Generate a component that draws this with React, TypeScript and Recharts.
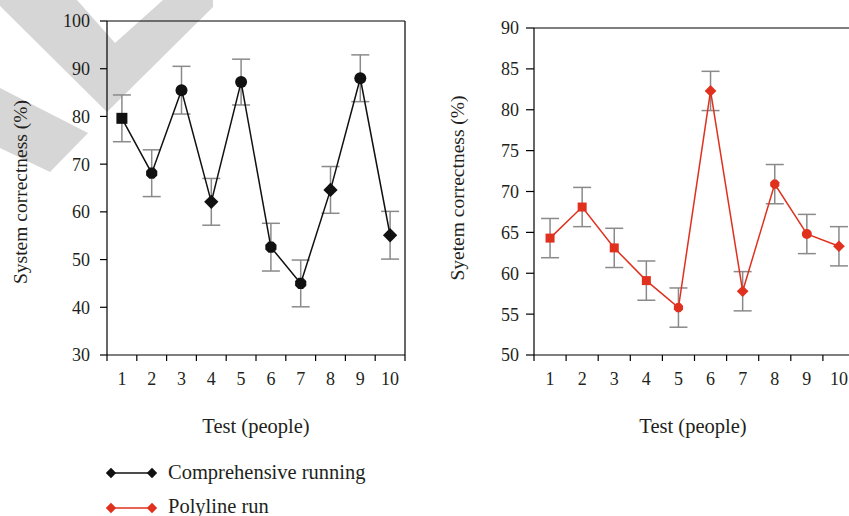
import React from 'react';
import { LineChart, Line, XAxis, YAxis, ErrorBar, ReferenceLine } from 'recharts';

const tests = [1, 2, 3, 4, 5, 6, 7, 8, 9, 10];
const comprehensiveValues = [79.6, 68.1, 85.5, 62.1, 87.2, 52.6, 45.0, 64.6, 88.0, 55.1];
const comprehensiveErrors = [4.9, 4.9, 5.0, 4.9, 4.8, 5.0, 4.9, 4.9, 4.9, 5.0];
const comprehensiveMarkers = ['square', 'octagon', 'circle', 'diamond', 'circle', 'octagon', 'octagon', 'diamond', 'circle', 'diamond'];
const polylineValues = [64.3, 68.1, 63.1, 59.1, 55.8, 82.3, 57.8, 70.9, 64.8, 63.3];
const polylineErrors = [2.4, 2.4, 2.4, 2.4, 2.4, 2.4, 2.4, 2.4, 2.4, 2.4];
const polylineMarkers = ['square', 'square', 'square', 'square', 'octagon', 'diamond', 'diamond', 'octagon', 'circle', 'diamond'];
const leftYTicks = [30, 40, 50, 60, 70, 80, 90, 100];
const rightYTicks = [50, 55, 60, 65, 70, 75, 80, 85, 90];

const FONT = '"Liberation Serif", "DejaVu Serif", serif';
const TEXT = '#231f20';
const RED = '#e0301e';
const GREY = '#8a8a8a';

const leftData = tests.map((t, i) => ({ test: t, value: comprehensiveValues[i], err: comprehensiveErrors[i] }));
const rightData = tests.map((t, i) => ({ test: t, value: polylineValues[i], err: polylineErrors[i] }));
// category labels at integers, tick marks on the band edges
const xTicks = [0.5, ...tests.flatMap(t => [t, t + 0.5])];

function marker(shape: string, cx: number, cy: number, size: number, fill: string, key?: string) {
  const r = size / 2;
  if (shape === 'square') return <rect key={key} x={cx - r} y={cy - r} width={size} height={size} fill={fill} />;
  if (shape === 'circle') return <circle key={key} cx={cx} cy={cy} r={r + 0.5} fill={fill} />;
  if (shape === 'diamond') {
    const d = r * 1.3;
    return <polygon key={key} points={`${cx},${cy - d} ${cx + d},${cy} ${cx},${cy + d} ${cx - d},${cy}`} fill={fill} />;
  }
  const pts = [];
  for (let k = 0; k < 8; k++) {
    const a = Math.PI / 8 + (k * Math.PI) / 4;
    pts.push(`${cx + Math.cos(a) * r * 1.1},${cy + Math.sin(a) * r * 1.1}`);
  }
  return <polygon key={key} points={pts.join(' ')} fill={fill} />;
}

const makeDot = (shapes: string[], size: number, fill: string) => (props: any) => {
  const { cx, cy, index } = props;
  if (cx == null || cy == null) return <g key={`d-${index}`} />;
  return marker(shapes[index], cx, cy, size, fill, `d-${index}`);
};

const XTick = (props: any) => {
  const { x, y, payload } = props;
  const v = payload.value;
  if (Number.isInteger(v)) {
    return (
      <text x={x} y={y + 24} textAnchor="middle" fontSize={18} fill={TEXT} fontFamily={FONT}>
        {v}
      </text>
    );
  }
  return <line x1={x} x2={x} y1={y - 6} y2={y} stroke="#000" strokeWidth={1.2} />;
};

const yTickStyle = { fontSize: 18, fill: TEXT, fontFamily: FONT };

export default function App() {
  return (
    <div style={{ position: 'fixed', left: 0, top: 0, width: 849, height: 516, overflow: 'hidden', background: '#fff', fontFamily: FONT }}>
      <svg width={849} height={516} style={{ position: 'absolute', left: 0, top: 0 }}>
        <polygon points="0,0 77,0 115,43 163,0 213,0 213,7 107,112 0,6" fill="#d6d6d6" />
        <polygon points="0,88 88,133 50,172 0,148" fill="#d6d6d6" />
      </svg>

      <div style={{ position: 'absolute', left: 0, top: 0 }}>
        <LineChart width={420} height={440} data={leftData} margin={{ top: 21, right: 15, bottom: 55, left: 0 }}>
          <XAxis dataKey="test" type="number" domain={[0.5, 10.5]} ticks={xTicks} interval={0}
            tick={<XTick />} tickLine={false} tickSize={6} tickMargin={0} height={30}
            axisLine={{ stroke: '#000', strokeWidth: 1.2 }} />
          <YAxis type="number" domain={[30, 100]} ticks={leftYTicks} interval={0} width={107}
            tick={yTickStyle} tickSize={7} tickMargin={10}
            tickLine={{ stroke: '#000', strokeWidth: 1.2 }} axisLine={{ stroke: '#000', strokeWidth: 1.2 }} />
          <ReferenceLine y={100} stroke="#000" strokeWidth={1.2} />
          <ReferenceLine x={10.5} stroke="#000" strokeWidth={1.2} />
          <Line dataKey="value" stroke="#111" strokeWidth={1.5} isAnimationActive={false}
            dot={makeDot(comprehensiveMarkers, 11, '#111')} activeDot={false}>
            <ErrorBar dataKey="err" width={9} stroke={GREY} strokeWidth={1.5} direction="y" isAnimationActive={false} />
          </Line>
        </LineChart>
      </div>

      <div style={{ position: 'absolute', left: 430, top: 0 }}>
        <LineChart width={430} height={440} data={rightData} margin={{ top: 28, right: 5, bottom: 55, left: 0 }}>
          <XAxis dataKey="test" type="number" domain={[0.5, 10.5]} ticks={xTicks} interval={0}
            tick={<XTick />} tickLine={false} tickSize={6} tickMargin={0} height={30}
            axisLine={{ stroke: '#000', strokeWidth: 1.2 }} />
          <YAxis type="number" domain={[50, 90]} ticks={rightYTicks} interval={0} width={104}
            tick={yTickStyle} tickSize={8} tickMargin={7}
            tickLine={{ stroke: '#000', strokeWidth: 1.2 }} axisLine={{ stroke: '#000', strokeWidth: 1.2 }} />
          <ReferenceLine y={90} stroke="#000" strokeWidth={1.2} />
          <Line dataKey="value" stroke={RED} strokeWidth={1.5} isAnimationActive={false}
            dot={makeDot(polylineMarkers, 9, RED)} activeDot={false}>
            <ErrorBar dataKey="err" width={9} stroke={GREY} strokeWidth={1.5} direction="y" isAnimationActive={false} />
          </Line>
        </LineChart>
      </div>

      <svg width={849} height={516} style={{ position: 'absolute', left: 0, top: 0, pointerEvents: 'none' }}>
        <text x={20} y={192} transform="rotate(-90 20 192)" textAnchor="middle" dominantBaseline="central"
          fontSize={19.5} fill={TEXT} fontFamily={FONT}>System correctness (%)</text>
        <text x={457} y={188} transform="rotate(-90 457 188)" textAnchor="middle" dominantBaseline="central"
          fontSize={19.5} fill={TEXT} fontFamily={FONT}>Syetem correctness (%)</text>
        <text x={256} y={433} textAnchor="middle" fontSize={20.5} fill={TEXT} fontFamily={FONT}>Test (people)</text>
        <text x={693} y={433} textAnchor="middle" fontSize={20.5} fill={TEXT} fontFamily={FONT}>Test (people)</text>

        <line x1={111} x2={152} y1={473} y2={473} stroke="#111" strokeWidth={1.5} />
        {marker('diamond', 111, 473, 8, '#111')}
        {marker('diamond', 152, 473, 8, '#111')}
        <text x={168} y={479} fontSize={20.5} fill={TEXT} fontFamily={FONT}>Comprehensive running</text>

        <line x1={111} x2={152} y1={508} y2={508} stroke={RED} strokeWidth={1.5} />
        {marker('diamond', 111, 508, 8, RED)}
        {marker('diamond', 152, 508, 8, RED)}
        <text x={168} y={513} fontSize={20.5} fill={TEXT} fontFamily={FONT}>Polyline run</text>
      </svg>
    </div>
  );
}
